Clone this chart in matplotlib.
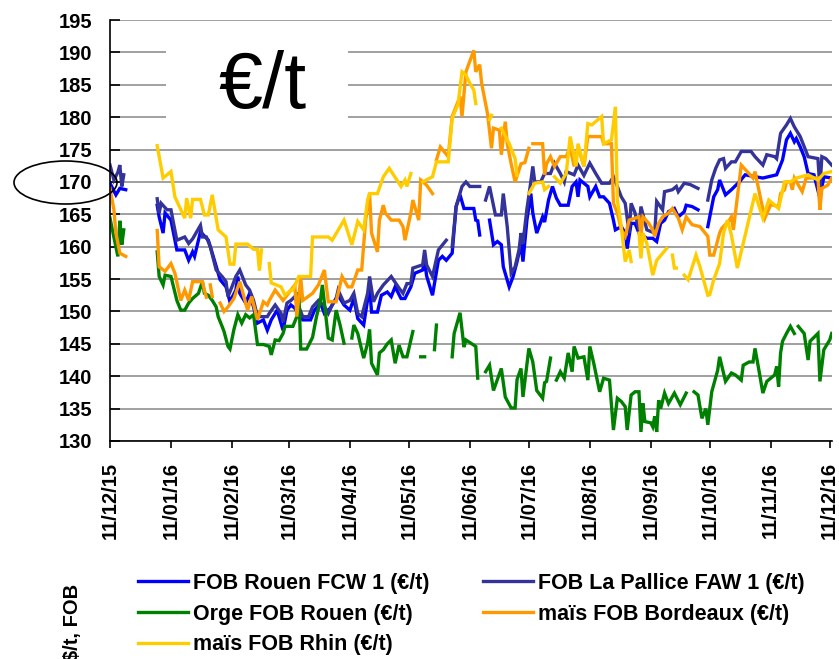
import numpy as np
import matplotlib
matplotlib.use('Agg')
import matplotlib.pyplot as plt
import matplotlib.dates as mdates
from matplotlib.patches import Ellipse, Rectangle

nan = np.nan
start = np.datetime64('2015-12-11')

# days after 11/12/15, values in EUR/t (nan = no quote)
rouen_days = [0, 3, 5, 8, 10,
              24, 25, 27, 28, 31, 33, 34, 38, 40, 42, 43, 46, 50, 52, 56, 59, 61, 64, 65, 66, 69, 71, 73, 75, 78,
              80, 82, 85, 88, 90, 92, 94, 98, 102, 104, 107, 109, 112, 116, 119, 122, 124, 126, 129, 132, 133,
              136, 138, 141, 143, 145, 148, 150, 153, 155, 159, 160, 161, 164, 167, 169, 171, 174, 176, 178, 180,
              185, 186, 187, 188, 189, 193, 195, 197, 199, 200, 203, 205, 207, 209, 210, 212, 214, 215, 217, 220,
              221, 223, 225, 227, 229, 233, 235, 237, 238, 239, 243, 244, 247, 249, 251, 254, 256, 257, 260, 262,
              263, 265, 267, 269, 273, 276, 278, 280, 282, 284, 287, 289, 292, 293, 296, 299, 301, 304, 307, 309,
              310, 313, 316, 320, 323, 328, 332, 339, 342, 344, 346, 348, 349, 351, 353, 355, 358, 361, 363, 367]
rouen = [169.8, 168.0, 169.0, 168.8, nan,
         166.4, 164.6, 162.1, 165.2, 164.1, 161.0, 159.5, 159.5, 157.9, 159.2, 158.5, 162.3, 161.0, 159.0, 154.9,
         153.8, 151.5, 153.3, 155.4, 152.8, 151.3, 152.8, 150.7, 148.2, 148.7, 147.1, 148.7, 150.2, 147.1, 150.2,
         151.0, 150.5, 148.7, 148.7, 150.2, 151.3, 149.7, 150.5, 152.5, 151.0, 150.2, 152.0, 148.9, 147.9, 153.8,
         149.9, 149.9, 152.5, 153.0, 152.3, 153.8, 152.0, 152.0, 153.8, 155.9, 156.4, 157.9, 155.5, 152.5, 157.9,
         158.5, 157.9, 159.0, 166.2, 168.0, 165.9, 165.9, 164.1, 164.0, 161.8, nan, 164.1, 160.3, 160.8, 160.3,
         156.9, 153.8, 155.4, 157.7, 160.5, 157.7, 164.1, 168.2, 165.2, 162.1, 164.6, 163.8, 167.2, 169.3, 167.5,
         166.4, 166.4, 169.3, 170.0, 167.7, 170.3, 169.3, 167.7, 169.3, 167.7, 167.7, 166.7, 164.1, 162.6, 163.1,
         162.1, 159.7, 163.6, 163.6, 162.1, 161.3, 161.3, 160.8, 163.6, 164.1, 165.4, 165.9, 164.6, 165.4, 166.4,
         166.2, 165.7, nan, 163.1, 167.7, 168.8, 170.3, 168.0, 168.8, 170.0, 171.1, 170.8, 170.6, 171.1, 173.4,
         176.5, 177.5, 176.2, 176.7, 175.4, 173.9, 171.3, 171.1, 167.5, 170.8, 170.6]

pallice_days = [0, 2, 4, 5, 6, 7, 10,
                24, 25, 26, 29, 31, 32, 34, 38, 40, 42, 46, 47, 49, 51, 54, 57, 59, 60, 62, 64, 66, 69, 71, 73, 75,
                80, 81, 84, 87, 88, 90, 92, 94, 98, 101, 103, 106, 109, 111, 113, 115, 116, 119, 122, 124, 126, 128,
                131, 132, 134, 136, 139, 143, 147, 149, 151, 153, 154, 159, 160, 161, 164, 167, 171, 172, 174, 176,
                179, 181, 183, 188, 189, 191, 193, 196, 199, 200, 202, 204, 206, 208, 209, 210, 212, 214, 215, 216,
                219, 221, 224, 226, 229, 231, 232, 236, 238, 241, 244, 247, 250, 254, 256, 258, 260, 262, 264, 265,
                267, 269, 270, 273, 277, 278, 281, 282, 286, 288, 289, 292, 295, 297, 299, 301, 304, 306, 308, 310,
                312, 313, 316, 318, 321, 326, 328, 332, 334, 338, 339, 341, 344, 346, 348, 349, 351, 354, 355, 360,
                361, 362, 364, 367]
pallice = [172.6, 170.3, 171.5, 172.6, 169.3, 171.1, nan,
           167.4, 165.2, 166.7, 165.7, 165.7, 164.1, 161.0, 161.5, 160.5, 161.2, 163.3, 161.5, 161.5, 160.0, 156.4,
           155.4, 154.6, 152.3, 153.8, 155.4, 156.4, 154.1, 153.3, 151.7, 149.2, 149.2, 149.7, 151.0, 149.7, 148.4,
           151.3, 151.7, 152.3, 149.2, 149.2, 150.7, 151.7, 150.8, 149.7, 151.0, 152.0, 153.3, 151.3, 151.7, 152.8,
           149.7, 149.2, 152.8, 155.4, 151.5, 152.8, 154.1, 155.4, 153.6, 152.8, 154.3, 154.3, 156.7, 157.2, 159.5,
           157.2, 155.4, 159.5, 161.0, nan, 160.0, 166.2, 169.3, 170.0, 169.3, 169.3, nan, 167.2, 169.3, 164.9,
           164.9, 168.2, 163.1, 155.9, 156.9, 159.5, 162.1, 160.5, 165.8, 170.0, 172.4, 170.0, 170.0, 171.3, 171.3,
           172.9, 171.3, 170.0, 171.6, 171.1, 172.6, 171.0, 172.9, 171.3, 169.8, 169.8, 170.8, 169.3, 167.7, 166.7,
           162.1, 166.7, 165.2, 162.6, 166.2, 162.6, 162.1, 167.0, 165.7, 168.5, 168.8, 169.3, 168.5, 169.8, 169.6,
           169.3, 169.0, nan, 167.2, 170.3, 172.1, 173.4, 173.6, 172.1, 173.1, 173.1, 174.7, 174.7, 173.9, 172.6,
           174.2, 173.9, 173.6, 177.5, 178.8, 179.8, 178.5, 178.0, 177.0, 174.7, 173.9, 173.6, 169.0, 173.9, 173.6,
           172.6]

orge_days = [0, 4, 5, 6, 7, 10,
             24, 25, 27, 28, 31, 34, 36, 38, 40, 42, 45, 47, 48, 50, 52, 54, 55, 57, 58, 60, 61, 63, 65, 67, 69, 71,
             73, 75, 78, 81, 82, 84, 86, 88, 89, 93, 95, 96, 97, 100, 103, 105, 107, 108, 111, 113, 115, 117, 119,
             120, 123, 124, 126, 129, 131, 132, 133, 136, 137, 139, 141, 143, 145, 147, 149, 151, 154, 155, 158,
             160, 161, 165, 166, 167, 174, 175, 178, 180, 181, 186, 187, 188, 191, 193, 195, 199, 201, 204, 206,
             207, 209, 210, 213, 215, 217, 220, 221, 222, 224, 225, 227, 229, 231, 233, 235, 236, 238, 241, 243,
             244, 246, 249, 251, 254, 256, 258, 260, 262, 263, 265, 267, 269, 270, 271, 272, 275, 276, 277, 278,
             279, 280, 282, 284, 287, 290, 293, 294, 297, 299, 301, 303, 304, 306, 309, 310, 313, 316, 318, 321,
             322, 325, 327, 328, 330, 332, 334, 338, 339, 340, 341, 342, 344, 346, 348, 349, 350, 353, 355, 356,
             360, 361, 363, 366, 367]
orge = [164.4, 158.5, 164.0, 160.3, 162.6, nan,
        159.2, 155.4, 154.1, 155.6, 155.4, 151.7, 150.2, 150.2, 151.3, 152.0, 152.8, 154.6, 152.8, 152.5, 151.7,
        150.7, 149.2, 147.7, 146.9, 144.6, 144.2, 147.2, 149.5, 148.2, 149.5, 149.0, 149.5, 144.9, 144.9, 144.6,
        143.3, 145.6, 145.5, 146.6, 147.7, 147.7, 149.2, 153.0, 144.2, 144.2, 146.0, 149.2, 151.7, 154.1, 145.9,
        145.6, 150.2, 147.9, 145.1, nan, 145.9, 147.9, 146.6, 142.8, 145.1, 147.2, 142.0, 140.2, 143.6, 144.1,
        145.0, 145.6, 142.0, 144.8, 143.0, 143.0, 146.9, nan, 143.0, 143.0, nan, 144.1, 147.9, nan, 143.0, 146.6,
        149.8, 144.5, 145.6, 144.6, 139.7, nan, 140.7, 141.7, 137.8, 141.2, 136.8, 135.1, 135.1, 139.5, 141.2,
        136.8, 144.3, 142.2, 137.8, 136.6, 139.0, 139.2, 142.8, nan, 139.4, 140.7, 139.7, 143.6, 140.7, 144.6,
        142.8, 143.0, 139.4, 144.6, 142.0, 137.6, 139.7, 139.4, 131.7, 136.6, 136.1, 135.3, 131.7, 137.1, 137.6,
        137.6, 131.4, 135.8, 133.0, 132.8, 132.2, 133.8, 131.4, 136.3, 135.0, 137.4, 135.8, 137.4, 135.6, 137.4,
        nan, 137.6, 137.1, 133.5, 135.0, 132.5, 137.6, 140.9, 143.0, 139.2, 140.5, 140.2, 139.4, 141.7, 142.2,
        142.2, 144.3, 140.9, 137.4, 139.2, 140.2, 141.5, 138.4, 143.6, 145.4, 146.6, 147.7, 146.6, nan, 147.7,
        146.6, 142.5, 145.4, 146.6, 139.2, 144.1, 145.6, 146.6]

bordeaux_days = [0, 2, 3, 5, 8, 10,
                 24, 25, 28, 31, 33, 36, 38, 40, 42, 47, 48, 49, 50, 51, 52, 53, 56, 58, 60, 63, 66, 69, 70, 72,
                 75, 78, 80, 81, 84, 88, 92, 94, 95, 97, 98, 103, 106, 109, 111, 115, 118, 121, 123, 126, 128, 130,
                 132, 133, 136, 137, 139, 140, 143, 147, 149, 150, 153, 154, 157, 158, 161, 164, 165, 166, 168, 172,
                 174, 178, 179, 181, 185, 186, 188, 189, 192, 194, 195, 198, 199, 201, 202, 204, 206, 209, 211, 213,
                 214, 215, 220, 221, 222, 224, 226, 229, 232, 234, 236, 238, 241, 243, 250, 251, 255, 256, 258, 260,
                 262, 264, 269, 270, 271, 274, 276, 277, 279, 281, 284, 286, 289, 291, 293, 296, 300, 304, 305, 307,
                 310, 311, 315, 316, 317, 321, 327, 328, 331, 333, 336, 340, 341, 343, 344, 346, 347, 348, 352, 354,
                 360, 361, 362, 365, 367]
bordeaux = [169.0, 165.7, 162.1, 159.0, 158.5, nan,
            162.5, 156.9, 156.2, 157.4, 155.9, 151.7, 153.3, 151.7, 154.6, 154.6, 153.3, 152.2, nan, 154.1, 152.3,
            nan, 151.3, 150.0, 150.7, 152.0, 154.6, 151.3, 150.2, 152.3, 148.7, 151.5, 151.0, 151.7, 153.3, 151.7,
            153.3, 154.1, 149.2, 155.2, 151.7, 152.8, 154.1, 156.4, 151.5, 151.5, 155.4, 153.8, 153.8, 156.4, 156.4,
            164.1, 168.2, 162.1, 159.2, 164.1, 166.4, 165.2, 164.1, 164.1, 163.1, 161.0, 165.2, 167.2, 164.1, 170.3,
            169.5, 168.2, nan, 173.4, 175.4, 173.9, 180.1, 183.2, 180.1, 187.0, 190.3, 187.0, 188.1, 185.2, 180.5,
            175.2, 178.3, 178.0, 174.2, 179.3, 175.9, 172.8, 170.0, 172.8, 173.0, 175.2, nan, 175.9, 175.9, 171.1,
            172.8, 173.9, 172.4, 173.9, 173.9, 175.4, 172.4, 175.4, 172.4, 177.0, 177.0, 175.9, 175.9, 166.7, 165.2,
            162.6, 161.6, 164.1, 164.6, 161.8, 164.6, 163.6, 162.6, 161.6, 163.6, 164.6, 165.2, 165.9, 164.4, 162.6,
            164.6, 163.4, 163.1, 161.6, 158.7, 158.7, 162.1, 162.8, 164.1, 164.6, 162.6, 172.6, 170.6, 171.6, 167.2,
            164.4, 166.5, 166.2, 168.2, 168.8, 170.0, 170.0, 168.8, 170.6, 168.5, 170.6, 170.6, 165.7, 169.0, 169.5,
            170.6]

rhin_days = [24, 27, 31, 33, 38, 39, 41, 42, 46, 48, 50, 52, 55, 59, 61, 63, 64, 70, 73, 75, 76, 77, 78, 81,
             82, 87, 89, 92, 93, 96, 102, 103, 111, 113, 119, 123, 126, 129, 131, 132, 136, 139, 142, 148, 150,
             151, 153, 155, 159, 164, 166, 172, 174, 177, 179, 181, 183, 185, 186, 188, 193, 194, 196, 199, 203,
             206, 207, 210, 213, 216, 220, 221, 223, 225, 226, 229, 232, 234, 237, 238, 241, 243, 245, 250, 251,
             255, 257, 258, 260, 262, 264, 265, 266, 269, 270, 271, 273, 276, 278, 283, 284, 286, 287, 288, 289,
             292, 294, 298, 300, 304, 305, 307, 310, 312, 314, 316, 319, 322, 328, 332, 335, 340, 343, 346, 349,
             355, 360, 363, 367]
rhin = [175.6, 170.6, 171.6, 167.7, 164.4, 167.5, 164.4, 167.3, 167.3, 164.9, 164.9, 168.0, 162.6, 161.5, 157.3,
        157.3, 160.4, 160.4, 159.6, 159.6, 156.3, 159.5, nan, 157.4, 154.4, 153.8, 152.5, 153.3, 153.3, 155.4,
        155.4, 161.5, 161.5, 161.0, 164.1, 160.3, 163.9, 162.6, 167.2, 168.2, 168.2, 170.8, 172.1, 169.3, 170.3,
        169.3, 171.3, nan, 170.0, 170.8, 173.1, 173.1, 179.8, 182.0, 187.0, 186.5, 185.2, 184.2, 182.1, nan,
        179.6, 180.3, nan, 178.3, 175.9, 173.6, 171.0, nan, 168.2, 169.8, 170.0, 168.8, 169.3, nan, 170.8, 169.8,
        171.3, 177.0, 172.4, 175.9, 172.4, 179.0, 178.8, 180.1, 175.9, 176.5, 181.6, 167.2, 163.1, 157.7, 159.5,
        157.7, nan, 162.1, 158.2, 162.1, 160.5, 155.6, 157.9, 159.7, nan, 158.7, 156.7, 156.7, nan, 155.6, 154.9,
        158.7, 156.9, 152.5, 152.6, 154.9, 157.4, 162.1, 164.1, 161.8, 156.7, 160.5, 168.2, 164.4, 167.2, 165.9,
        170.0, 170.0, 170.6, 171.1, 170.3, 171.3, 171.6]

series = [
    ('FOB Rouen FCW 1 (€/t)', rouen_days, rouen, '#0000FF'),
    ('FOB La Pallice FAW 1 (€/t)', pallice_days, pallice, '#333399'),
    ('Orge FOB Rouen (€/t)', orge_days, orge, '#008000'),
    ('maïs FOB Bordeaux (€/t)', bordeaux_days, bordeaux, '#FF9900'),
    ('maïs FOB Rhin (€/t)', rhin_days, rhin, '#FFCC00'),
]

tick_dates = [np.datetime64('2015-12-11')] + [np.datetime64('2016-%02d-11' % m) for m in range(1, 13)]

plt.rcParams['font.family'] = ['Liberation Sans', 'DejaVu Sans']
plt.rcParams['font.weight'] = 'bold'

fig = plt.figure(figsize=(8.39, 6.59), dpi=100)
ax = fig.add_axes([110 / 839, 1 - 441 / 659, 721.7 / 839, 421 / 659])

handles = []
for name, days, vals, col in series:
    x = start + np.array(days, dtype='timedelta64[D]')
    h, = ax.plot(x, np.array(vals, dtype=float), color=col, lw=2.4, label=name,
                 solid_joinstyle='miter')
    handles.append(h)

ax.set_ylim(130, 195)
ax.set_yticks(np.arange(130, 196, 5))
ax.set_xlim(start, start + np.timedelta64(367, 'D'))
ax.set_xticks(tick_dates)
ax.xaxis.set_major_formatter(mdates.DateFormatter('%d/%m/%y'))

ax.set_axisbelow(True)
ax.yaxis.grid(True, color='#A0A0A0', lw=1.4)
for s in ['top', 'right']:
    ax.spines[s].set_visible(False)
for s in ['left', 'bottom']:
    ax.spines[s].set_linewidth(1.2)

ax.tick_params(axis='y', direction='in', length=7, width=1.2, pad=13, labelsize=14.5)
ax.tick_params(axis='x', direction='out', length=5, width=1.2, pad=10, labelsize=14.5,
               labelrotation=90)

# white box with the unit
ax.add_patch(Rectangle((0.0776, 0.7316), 0.2522, 0.2494, transform=ax.transAxes,
                       facecolor='white', edgecolor='none', zorder=1))
ax.text(0.2106, 0.791, '€/t', transform=ax.transAxes, ha='center', va='baseline',
        fontsize=57, fontweight='normal', zorder=3)

fig.add_artist(Ellipse((65.5 / 839, 1 - 182.5 / 659), 103 / 839, 43 / 659,
                       transform=fig.transFigure, fill=False, ec='black', lw=1.2))

order = [0, 2, 4, 1, 3]
fig.legend([handles[i] for i in order], [series[i][0] for i in order], ncol=2,
           loc='upper left', bbox_to_anchor=(138 / 839, 1 - 573 / 659), frameon=False,
           fontsize=15.5, handlelength=2.3, handletextpad=0.25, labelspacing=0.45,
           columnspacing=2.5, borderpad=0, borderaxespad=0)

fig.text(72.5 / 839, 1 - 622 / 659, '$/t, FOB', rotation=90, ha='center', va='center',
         fontsize=14.5, fontweight='bold')

fig.savefig('out.png', dpi=100)
